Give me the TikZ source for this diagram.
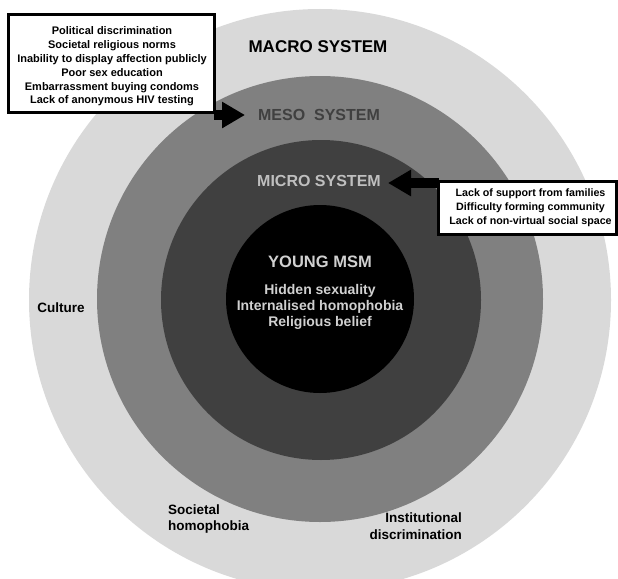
\documentclass[tikz,border=0pt]{standalone}
\usepackage{fontspec}
\setmainfont{Liberation Sans}
\usetikzlibrary{arrows.meta}
\definecolor{macrogray}{HTML}{D9D9D9}
\definecolor{mesogray}{HTML}{808080}
\definecolor{microgray}{HTML}{404040}
\definecolor{lightlabel}{HTML}{BFBFBF}
\definecolor{innerlabel}{HTML}{D0D0D0}
\begin{document}
\begin{tikzpicture}[x=1pt,y=-1pt,
  syslabel/.style={font=\fontsize{16}{18}\selectfont\bfseries, inner sep=0pt},
  factor/.style={font=\fontsize{13.5}{16.5}\selectfont\bfseries, inner sep=0pt},
  listbox/.style={draw=black, line width=3pt, fill=white},
  listtext/.style={align=center, font=\fontsize{11}{13.8}\selectfont\bfseries, inner sep=0pt},
  blockarrow/.style={line width=10pt, -{Triangle[width=25pt,length=23pt]}, black}
]
\useasboundingbox (0,0) rectangle (618,578);
\clip (0,0) rectangle (618,578);
% rings
\fill[macrogray] (320,300) circle (291pt);
\fill[mesogray]  (320,299) circle (223pt);
\fill[microgray] (321,300) circle (160pt);
\fill[black]     (320,299) circle (94pt);
% system labels
\node[syslabel, text=black, font=\fontsize{17}{19}\selectfont\bfseries] (macro) at (318,47) {MACRO SYSTEM};
\node[syslabel, text=microgray] (meso) at (319,115) {MESO\ \ SYSTEM};
\node[syslabel, text=lightlabel] (micro) at (319,181) {MICRO SYSTEM};
\node[syslabel, text=innerlabel, font=\fontsize{16.5}{18}\selectfont\bfseries] (msm) at (320,262) {YOUNG MSM};
\node[align=center, text=innerlabel, inner sep=0pt, font=\fontsize{14}{16}\selectfont\bfseries] (personal) at (320,307)
  {Hidden sexuality\\Internalised homophobia\\Religious belief};
% macro factors
\node[factor, text=black] (culture) at (61,308) {Culture};
\node[factor, text=black, align=left, anchor=west] (soc) at (168,519) {Societal\\homophobia};
\node[factor, text=black, align=right, anchor=east] (inst) at (462,526) {Institutional\\discrimination};
% boxes
\node[listbox, minimum width=206pt, minimum height=97pt] (lbox) at (111,63.5) {};
\node[listtext] (ltext) at (112,66.5)
  {Political discrimination\\Societal religious norms\\Inability to display affection publicly\\Poor sex education\\Embarrassment buying condoms\\Lack of anonymous HIV testing};
\node[listbox, minimum width=178pt, minimum height=53pt] (rbox) at (527.5,207.5) {};
\node[listtext, font=\fontsize{10.7}{14}\selectfont\bfseries] (rtext) at (530.5,207.5)
  {Lack of support from families\\Difficulty forming community\\Lack of non-virtual social space};
% arrows
\coordinate (mesotip) at (245,115);
\coordinate (microtip) at (388,183);
\draw[blockarrow] ([xshift=-2pt]lbox.east |- mesotip) -- (mesotip);
\draw[blockarrow] ([xshift=2pt]rbox.west |- microtip) -- (microtip);
\end{tikzpicture}
\end{document}
